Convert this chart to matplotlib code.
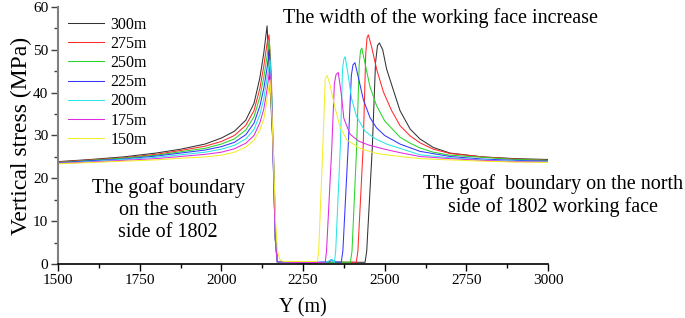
import matplotlib
matplotlib.use('Agg')
import matplotlib.pyplot as plt
from matplotlib.ticker import MultipleLocator

plt.rcParams['font.family'] = ['Liberation Serif', 'DejaVu Serif']

# shared x positions on the south (left) side
x_left = [1500, 1600, 1700, 1800, 1875, 1950, 2000, 2040, 2075, 2100, 2118, 2130, 2140]

# 300m
y300_left = [23.9, 24.4, 25.0, 25.9, 26.8, 28.0, 29.4, 31.0, 33.6, 37.5, 43.5, 49.3, 55.6]
x300_rest = [2150, 2160, 2167, 2172, 2250, 2350, 2440, 2445, 2462, 2472, 2478, 2484, 2494, 2506,
             2527, 2547, 2578, 2608, 2649, 2700, 2800, 2900, 3000]
y300_rest = [40.0, 25.0, 5.0, 0.5, 0.3, 0.4, 0.4, 3.0, 27.0, 47.0, 51.0, 51.6, 50.0, 45.5,
             40.5, 35.8, 31.5, 29.2, 27.2, 25.9, 25.0, 24.6, 24.4]

# 275m
y275_left = [23.8, 24.3, 24.8, 25.6, 26.5, 27.5, 28.6, 30.0, 32.4, 35.8, 41.0, 46.2, 51.5]
x275_rest = [2146, 2153, 2165, 2171, 2250, 2350, 2413, 2418, 2434, 2442, 2446, 2450, 2460, 2476,
             2496, 2520, 2547, 2578, 2608, 2649, 2700, 2800, 2900, 3000]
y275_rest = [53.5, 44.0, 6.0, 0.5, 0.3, 0.4, 0.4, 3.0, 27.0, 49.0, 52.8, 53.5, 50.7, 45.3,
             40.2, 36.0, 32.3, 29.9, 28.3, 26.8, 25.8, 25.0, 24.5, 24.2]

# 250m
y250_left = [23.7, 24.2, 24.7, 25.4, 26.2, 27.0, 28.0, 29.2, 31.3, 34.4, 39.0, 43.6, 48.5]
x250_rest = [2147, 2153, 2165, 2171, 2250, 2350, 2395, 2400, 2414, 2422, 2426, 2430, 2440, 2455,
             2475, 2500, 2547, 2578, 2608, 2649, 2700, 2800, 2900, 3000]
y250_rest = [51.9, 42.0, 6.0, 0.5, 0.3, 0.4, 0.4, 3.0, 27.0, 46.5, 49.8, 50.4, 46.8, 41.4,
             37.0, 33.4, 29.6, 28.2, 27.1, 26.1, 25.4, 24.9, 24.4, 24.2]

# 225m
y225_left = [23.6, 24.1, 24.5, 25.2, 25.9, 26.6, 27.4, 28.4, 30.2, 32.9, 36.9, 41.0, 45.8]
x225_rest = [2147, 2153, 2165, 2171, 2250, 2330, 2338, 2346, 2367, 2372, 2388, 2398, 2403, 2409,
             2419, 2435, 2455, 2475, 2500, 2547, 2608, 2700, 2800, 2900, 3000]
y225_rest = [50.0, 40.0, 6.0, 0.5, 0.3, 0.5, 1.0, 0.5, 0.4, 3.0, 27.0, 44.0, 46.5, 47.0,
             43.7, 38.3, 34.2, 31.8, 30.0, 28.0, 26.3, 25.1, 24.5, 24.2, 24.0]

# 200m
y200_left = [23.5, 23.9, 24.4, 24.9, 25.5, 26.1, 26.8, 27.7, 29.2, 31.4, 34.9, 38.6, 43.3]
x200_rest = [2149, 2155, 2165, 2171, 2250, 2325, 2335, 2343, 2346, 2350, 2364, 2371, 2375, 2379,
             2389, 2399, 2414, 2440, 2470, 2506, 2547, 2608, 2700, 2800, 2900, 3000]
y200_rest = [47.6, 38.0, 6.0, 0.5, 0.3, 0.5, 1.0, 0.6, 0.4, 3.0, 27.0, 45.5, 47.8, 48.4,
             43.7, 38.5, 34.4, 31.0, 29.3, 28.0, 27.0, 25.5, 24.8, 24.3, 24.0, 23.9]

# 175m
y175_left = [23.5, 23.8, 24.2, 24.6, 25.1, 25.6, 26.1, 26.9, 28.2, 30.0, 33.0, 36.2, 40.8]
x175_rest = [2148, 2155, 2165, 2171, 2250, 2318, 2322, 2338, 2346, 2351, 2358, 2368, 2375,
             2394, 2420, 2450, 2500, 2547, 2608, 2700, 2800, 2900, 3000]
y175_rest = [45.4, 36.0, 6.0, 0.5, 0.3, 0.4, 3.0, 27.0, 42.0, 44.2, 44.7, 39.2, 34.0,
             30.3, 28.7, 27.8, 26.8, 26.0, 25.1, 24.6, 24.2, 23.9, 23.8]

# 150m
y150_left = [23.4, 23.7, 24.0, 24.3, 24.7, 25.0, 25.4, 26.1, 27.3, 28.9, 31.3, 33.8, 38.5]
x150_rest = [2149, 2156, 2166, 2172, 2180, 2190, 2250, 2294, 2298, 2312, 2318, 2324, 2332,
             2348, 2363, 2384, 2424, 2475, 2547, 2608, 2700, 2800, 2900, 3000]
y150_rest = [43.0, 33.0, 10.0, 3.0, 0.9, 0.6, 0.6, 0.6, 3.0, 30.0, 43.3, 44.0, 42.0,
             36.5, 32.1, 29.0, 27.0, 25.8, 25.1, 24.6, 24.3, 24.0, 23.8, 23.7]

labels = ['300m', '275m', '250m', '225m', '200m', '175m', '150m']
colors = ['#333333', '#ff2a2a', '#2ad42a', '#3535ff', '#2ae6e6', '#e02ae0', '#f2ee2a']

series = [
    (x_left + x300_rest, y300_left + y300_rest),
    (x_left + x275_rest, y275_left + y275_rest),
    (x_left + x250_rest, y250_left + y250_rest),
    (x_left + x225_rest, y225_left + y225_rest),
    (x_left + x200_rest, y200_left + y200_rest),
    (x_left + x175_rest, y175_left + y175_rest),
    (x_left + x150_rest, y150_left + y150_rest),
]

fig = plt.figure(figsize=(6.85, 3.18), dpi=100)
ax = fig.add_axes([0.0847, 0.1698, 0.7153, 0.8082])

for (xs, ys), lab, c in zip(series, labels, colors):
    ax.plot(xs, ys, color=c, lw=0.75, label=lab)

ax.set_xlim(1500, 3000)
ax.set_ylim(0, 60)
ax.xaxis.set_major_locator(MultipleLocator(250))
ax.xaxis.set_minor_locator(MultipleLocator(125))
ax.yaxis.set_major_locator(MultipleLocator(10))
ax.yaxis.set_minor_locator(MultipleLocator(5))

ax.spines['top'].set_visible(False)
ax.spines['right'].set_visible(False)
ax.spines['left'].set_color('#808080')
ax.spines['left'].set_linewidth(1.5)
ax.spines['bottom'].set_color('black')
ax.spines['bottom'].set_linewidth(1.2)
ax.tick_params(which='major', direction='out', length=5, width=1, labelsize=11, pad=2)
ax.tick_params(which='minor', direction='out', length=3, width=1)
ax.tick_params(axis='y', which='both', color='#404040')

ax.set_xlabel('Y (m)', fontsize=14.5, labelpad=8)
ax.set_ylabel('Vertical stress (MPa)', fontsize=17, labelpad=1)

ax.legend(loc='upper left', bbox_to_anchor=(0.0, 1.0), frameon=False, fontsize=11.5,
          handlelength=2.3, handletextpad=0.4, labelspacing=0.2, borderaxespad=0.2)

ax.text(2672, 57.4, 'The width of the working face increase', fontsize=14.5,
        ha='center', va='center', clip_on=False)
ax.text(1837, 12.6, 'The goaf boundary\non the south\nside of 1802', fontsize=14.5,
        ha='center', va='center', linespacing=1.2)
ax.text(3015, 15.9, 'The goaf  boundary on the north\nside of 1802 working face', fontsize=14.5,
        ha='center', va='center', linespacing=1.2, clip_on=False)

fig.savefig('out.png', dpi=100)
